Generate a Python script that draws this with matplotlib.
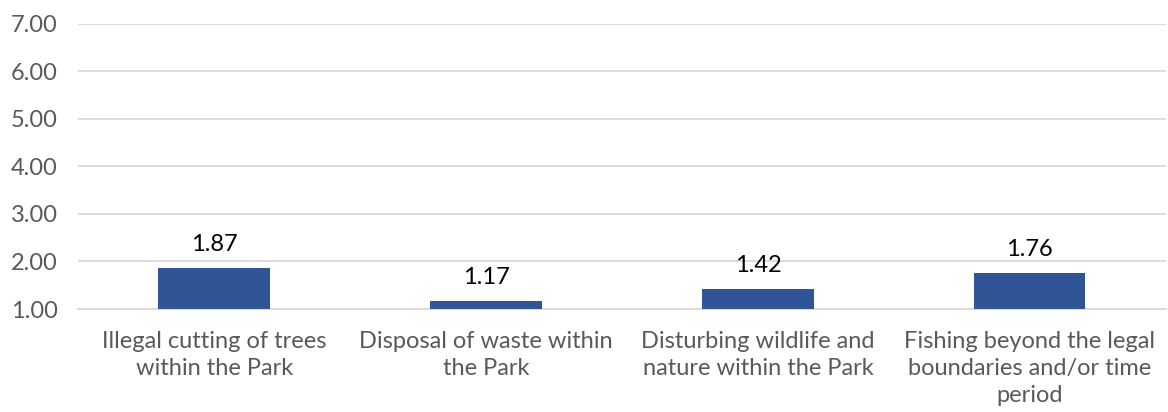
import matplotlib
matplotlib.use("Agg")
import matplotlib.pyplot as plt
import numpy as np

# ---- data ----
categories = [
    "Illegal cutting of trees\nwithin the Park",
    "Disposal of waste within\nthe Park",
    "Disturbing wildlife and\nnature within the Park",
    "Fishing beyond the legal\nboundaries and/or time\nperiod",
]
values = [1.87, 1.17, 1.42, 1.76]
yticks = [1, 2, 3, 4, 5, 6, 7]

bar_color = "#2F5597"
grid_color = "#D9D9D9"
text_gray = "#595959"

plt.rcParams["font.family"] = ["Lato", "DejaVu Sans"]

fig = plt.figure(figsize=(11.68, 4.12), dpi=100)
ax = fig.add_axes([0.067, 0.25, 0.931, 0.692])

x = np.arange(len(categories))
ax.bar(x, np.array(values) - 1, bottom=1, width=0.41, color=bar_color, zorder=3)

for xi, v in zip(x, values):
    ax.text(xi, v + 0.27, f"{v:.2f}", ha="center", va="bottom", fontsize=17,
            color="black")

ax.set_ylim(1, 7)
ax.set_xlim(-0.5, len(categories) - 0.5)
ax.set_yticks(yticks)
ax.set_yticklabels([f"{t:.2f}" for t in yticks], fontsize=17, color=text_gray)
ax.set_xticks(x)
ax.set_xticklabels(categories, fontsize=17, color=text_gray, linespacing=1.35)
ax.tick_params(axis="both", length=0)
ax.tick_params(axis="x", pad=16)
ax.tick_params(axis="y", pad=15)

ax.yaxis.grid(True, color=grid_color, linewidth=1.3, zorder=0)
ax.set_axisbelow(True)
for s in ["top", "right", "left"]:
    ax.spines[s].set_visible(False)
ax.spines["bottom"].set_color(grid_color)
ax.spines["bottom"].set_linewidth(1.3)

fig.savefig("out.png", dpi=100)
